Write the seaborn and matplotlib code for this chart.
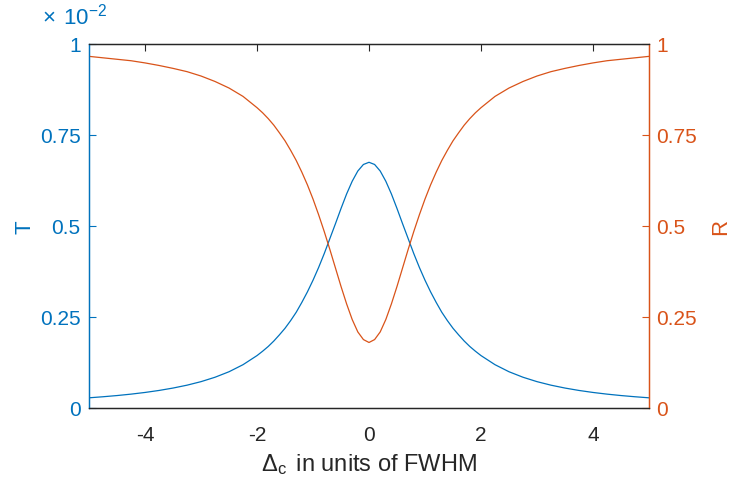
import numpy as np
import pandas as pd
import seaborn as sns
import matplotlib
matplotlib.use('Agg')
import matplotlib.pyplot as plt

# detuning in units of FWHM (right half, mirrored below)
x_half = [0.0, 0.1, 0.2, 0.3, 0.4, 0.5, 0.6, 0.7, 0.8, 0.9, 1.0,
          1.1, 1.2, 1.3, 1.4, 1.5, 1.6, 1.7, 1.8, 1.9, 2.0,
          2.25, 2.5, 2.75, 3.0, 3.25, 3.5, 3.75, 4.0, 4.25, 4.5, 4.75, 5.0]
# transmission, x 10^-2
T_half = [0.675, 0.669, 0.651, 0.623, 0.588, 0.548, 0.506, 0.465, 0.424, 0.386, 0.351,
          0.319, 0.290, 0.263, 0.240, 0.219, 0.201, 0.184, 0.169, 0.156, 0.144,
          0.119, 0.0996, 0.0845, 0.0724, 0.0627, 0.0548, 0.0482, 0.0427, 0.0381, 0.0342, 0.0309, 0.028]
# reflection
R_half = [0.180, 0.188, 0.209, 0.243, 0.286, 0.334, 0.385, 0.436, 0.485, 0.531, 0.574,
          0.613, 0.648, 0.680, 0.708, 0.734, 0.756, 0.777, 0.795, 0.811, 0.825,
          0.856, 0.879, 0.897, 0.912, 0.924, 0.933, 0.941, 0.948, 0.954, 0.958, 0.962, 0.966]

xticks = [-4, -2, 0, 2, 4]
yticks = [0, 0.25, 0.5, 0.75, 1]
ytick_labels = ['0', '0.25', '0.5', '0.75', '1']

blue = '#0072BD'
orange = '#D95319'
dark = '#262626'

df = pd.DataFrame({
    'x': [-v for v in x_half[:0:-1]] + x_half,
    'T': T_half[:0:-1] + T_half,
    'R': R_half[:0:-1] + R_half,
})

sns.set_style('white')
plt.rcParams['font.family'] = ['Liberation Sans', 'DejaVu Sans']
plt.rcParams['mathtext.fontset'] = 'custom'
plt.rcParams['mathtext.rm'] = 'Liberation Sans'
plt.rcParams['mathtext.it'] = 'Liberation Sans'
plt.rcParams['mathtext.cal'] = 'Liberation Sans'

fig = plt.figure(figsize=(7.31, 4.89), dpi=100)
ax = fig.add_axes([0.1218, 0.1636, 0.7660, 0.7444])
ax2 = ax.twinx()

sns.lineplot(data=df, x='x', y='T', ax=ax, color=blue, lw=0.9)
sns.lineplot(data=df, x='x', y='R', ax=ax2, color=orange, lw=0.9)

ax.set_xlim(-5, 5)
ax.set_ylim(0, 1)
ax2.set_ylim(0, 1)
ax.set_xticks(xticks)
ax.set_xticklabels([str(t) for t in xticks])
ax.set_yticks(yticks)
ax.set_yticklabels(ytick_labels)
ax2.set_yticks(yticks)
ax2.set_yticklabels(ytick_labels)

for a in (ax, ax2):
    for s in a.spines.values():
        s.set_visible(True)
        s.set_linewidth(0.9)
    a.spines['top'].set_color(dark)
    a.spines['bottom'].set_color(dark)
    a.spines['left'].set_color(blue)
    a.spines['right'].set_color(orange)

ax.tick_params(axis='x', direction='in', length=5, width=0.8, colors=dark,
               labelsize=15, top=True, pad=12)
ax.tick_params(axis='y', direction='in', length=5, width=0.8, colors=blue,
               labelsize=15, pad=6)
ax2.tick_params(axis='y', direction='in', length=5, width=0.8, colors=orange,
                labelsize=15, pad=5)

ax.set_xlabel(r'$\Delta_{c}\,$ in units of FWHM', fontsize=17, color=dark, labelpad=5)
ax.set_ylabel('T', fontsize=16, color=blue, labelpad=3)
ax2.set_ylabel('R', fontsize=16, color=orange, labelpad=10)

fig.text(0.057, 0.949, r'$\times\;\,10^{-2}$', fontsize=16, color=blue, va='baseline')

fig.savefig('out.png', dpi=100)
